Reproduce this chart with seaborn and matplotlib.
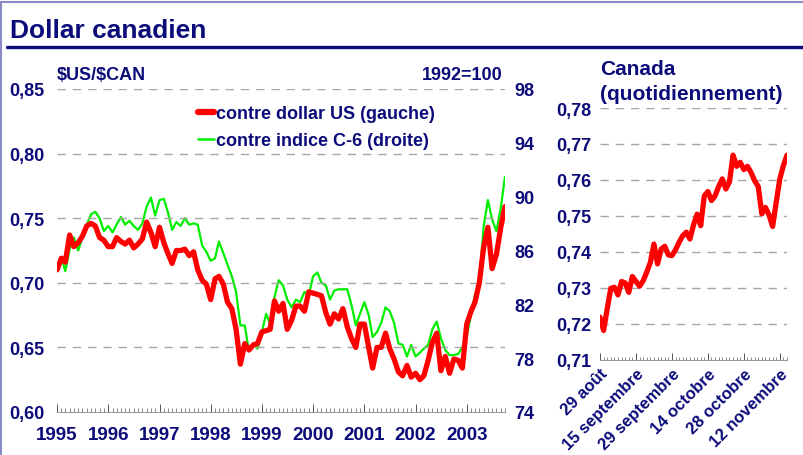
import numpy as np
import pandas as pd
import seaborn as sns
import matplotlib.pyplot as plt
from matplotlib.lines import Line2D
from matplotlib.ticker import FuncFormatter, MultipleLocator

# monthly, Jan 1995 .. Oct 2003
months = pd.date_range("1995-01-01", "2003-10-01", freq="MS")
usd = [
    0.710, 0.719, 0.716, 0.737, 0.728, 0.731, 0.736, 0.744, 0.746, 0.744, 0.735, 0.733,
    0.728, 0.728, 0.735, 0.732, 0.730, 0.733, 0.727, 0.730, 0.734, 0.747, 0.739, 0.728,
    0.743, 0.731, 0.723, 0.715, 0.725, 0.725, 0.726, 0.721, 0.724, 0.710, 0.702, 0.699,
    0.687, 0.703, 0.705, 0.699, 0.685, 0.680, 0.664, 0.637, 0.653, 0.648, 0.652, 0.653,
    0.662, 0.663, 0.664, 0.686, 0.678, 0.684, 0.664, 0.671, 0.682, 0.682, 0.678, 0.693,
    0.692, 0.691, 0.690, 0.677, 0.668, 0.676, 0.672, 0.680, 0.666, 0.657, 0.650, 0.668,
    0.668, 0.650, 0.634, 0.650, 0.650, 0.661, 0.649, 0.641, 0.631, 0.628, 0.636, 0.627,
    0.630, 0.625, 0.628, 0.640, 0.654, 0.661, 0.632, 0.643, 0.630, 0.641, 0.640, 0.634,
    0.668, 0.678, 0.685, 0.700, 0.727, 0.743, 0.711, 0.722, 0.743, 0.759,
]
# C-6 index read on the left scale, converted to 1992=100 below
c6_left = [
    0.713, 0.720, 0.709, 0.726, 0.735, 0.725, 0.735, 0.745, 0.753, 0.755, 0.750, 0.740,
    0.744, 0.739, 0.745, 0.751, 0.745, 0.748, 0.744, 0.741, 0.746, 0.759, 0.766, 0.752,
    0.764, 0.765, 0.755, 0.741, 0.747, 0.744, 0.750, 0.745, 0.746, 0.745, 0.729, 0.724,
    0.717, 0.719, 0.732, 0.723, 0.714, 0.705, 0.693, 0.667, 0.667, 0.647, 0.653, 0.649,
    0.662, 0.676, 0.668, 0.689, 0.702, 0.698, 0.687, 0.681, 0.687, 0.685, 0.693, 0.690,
    0.705, 0.708, 0.700, 0.698, 0.687, 0.694, 0.695, 0.695, 0.695, 0.683, 0.667, 0.676,
    0.685, 0.675, 0.658, 0.662, 0.669, 0.681, 0.678, 0.669, 0.653, 0.652, 0.643, 0.652,
    0.643, 0.646, 0.649, 0.652, 0.664, 0.670, 0.657, 0.648, 0.644, 0.644, 0.645, 0.650,
    0.658, 0.676, 0.691, 0.700, 0.743, 0.764, 0.749, 0.740, 0.758, 0.782,
]
c6 = [74 + (v - 0.60) * 96 for v in c6_left]

# daily (business days), 29 Aug .. mid-Nov 2003
daily = [
    0.7219, 0.7182, 0.7242, 0.7299, 0.7302, 0.7281, 0.7318, 0.7314, 0.7288, 0.7332,
    0.7318, 0.7305, 0.7320, 0.7344, 0.7371, 0.7422, 0.7367, 0.7408, 0.7416, 0.7392,
    0.7390, 0.7406, 0.7427, 0.7445, 0.7455, 0.7436, 0.7475, 0.7505, 0.7473, 0.7556,
    0.7568, 0.7543, 0.7556, 0.7582, 0.7603, 0.7575, 0.7595, 0.7669, 0.7638, 0.7649,
    0.7629, 0.7638, 0.7621, 0.7598, 0.7582, 0.7506, 0.7524, 0.7503, 0.7471, 0.7538,
    0.7603, 0.7640, 0.7669,
]
day_ticks = [0, 10, 20, 30, 40, 50]
day_labels = ["29 août", "15 septembre", "29 septembre", "14 octobre", "28 octobre", "12 novembre"]

NAVY = "#0b0b7a"
GRID = "#a6a6a6"

sns.set_style("white")
plt.rcParams["font.family"] = ["Liberation Sans", "DejaVu Sans"]
plt.rcParams["font.weight"] = "bold"

fig = plt.figure(figsize=(8.04, 4.56), dpi=100)
W, H = 804, 456

def box(x0, y0, x1, y1):
    return [x0 / W, 1 - y1 / H, (x1 - x0) / W, (y1 - y0) / H]

comma = FuncFormatter(lambda v, p: f"{v:.2f}".replace(".", ","))

# ---- left chart: monthly
ax = fig.add_axes(box(57, 90, 505, 413))
ax2 = ax.twinx()
df = pd.DataFrame({"date": months, "usd": usd, "c6": c6})
sns.lineplot(data=df, x="date", y="usd", ax=ax, color="#ff0000", lw=3.8, zorder=3)
sns.lineplot(data=df, x="date", y="c6", ax=ax2, color="#00ee00", lw=1.6)
ax.set_zorder(ax2.get_zorder() + 1)
ax.patch.set_visible(False)

ax.set_xlim(months[0], months[-1])
ax.set_ylim(0.60, 0.85)
ax2.set_ylim(74, 98)
ax.set_yticks([0.60, 0.65, 0.70, 0.75, 0.80, 0.85])
ax2.set_yticks(range(74, 99, 4))
ax.yaxis.set_major_formatter(comma)
for a in (ax, ax2):
    a.set_xlabel("")
    a.set_ylabel("")
    for s in a.spines.values():
        s.set_visible(False)
    a.tick_params(axis="y", length=0, labelsize=13, labelcolor=NAVY)
ax.tick_params(axis="y", pad=9)
ax2.tick_params(axis="y", pad=7)
for y in [0.65, 0.70, 0.75, 0.80, 0.85]:
    ax.axhline(y, color=GRID, lw=1, ls=(0, (6, 5)), zorder=1)

years = pd.date_range("1995-01-01", "2003-01-01", freq="YS")
ax.set_xticks(years)
ax.set_xticklabels([str(y.year) for y in years])
ax.set_xticks(pd.date_range("1995-01-01", "2003-10-01", freq="MS"), minor=True)
ax.spines["bottom"].set_visible(True)
ax.spines["bottom"].set_color("#888888")
ax.spines["bottom"].set_linewidth(0.6)
ax.tick_params(axis="x", which="both", bottom=True)
ax.tick_params(axis="x", which="major", direction="in", length=6, width=0.7,
               color="#555555", labelsize=13.5, labelcolor=NAVY, pad=10)
ax.tick_params(axis="x", which="minor", direction="in", length=3, width=0.6, color="#777777")
ax2.tick_params(axis="x", length=0, labelbottom=False)

ax.text(0.0, 1.02, r"\$US/\$CAN", transform=ax.transAxes, fontsize=13, color=NAVY,
        ha="left", va="bottom")
ax.text(0.995, 1.02, "1992=100", transform=ax.transAxes, fontsize=13, color=NAVY,
        ha="right", va="bottom")
handles = [Line2D([], [], color="#ff0000", lw=4.5), Line2D([], [], color="#00ee00", lw=1.8)]
ax.legend(handles, ["contre dollar US (gauche)", "contre indice C-6 (droite)"],
          loc="upper left", bbox_to_anchor=((191 - 57) / 448, 0.973), frameon=False,
          fontsize=13, labelcolor=NAVY, handlelength=0.9, handletextpad=0.1,
          labelspacing=0.55, borderaxespad=0)

# ---- right chart: daily
bx = fig.add_axes(box(600, 109, 787, 361))
days = np.arange(len(daily))
sns.lineplot(x=days, y=daily, ax=bx, color="#ff0000", lw=3.8, zorder=3)
bx.set_xlim(0, len(daily) - 1)
bx.set_ylim(0.71, 0.78)
bx.yaxis.set_major_locator(MultipleLocator(0.01))
bx.yaxis.set_major_formatter(comma)
for s in bx.spines.values():
    s.set_visible(False)
bx.spines["bottom"].set_visible(True)
bx.spines["bottom"].set_color("#888888")
bx.spines["bottom"].set_linewidth(0.6)
for y in np.arange(0.72, 0.785, 0.01):
    bx.axhline(y, color=GRID, lw=1, ls=(0, (6, 5)), zorder=1)
bx.tick_params(axis="y", length=0, labelsize=13, labelcolor=NAVY, pad=6)
bx.set_xticks(day_ticks)
bx.set_xticklabels(day_labels, rotation=45, ha="right", rotation_mode="anchor")
bx.set_xticks(days, minor=True)
bx.tick_params(axis="x", which="both", bottom=True)
bx.tick_params(axis="x", which="major", direction="in", length=5, width=0.7,
               color="#555555", labelsize=12, labelcolor=NAVY, pad=4)
bx.tick_params(axis="x", which="minor", direction="in", length=2.5, width=0.6, color="#777777")

fig.text(600 / W, 1 - 75 / H, "Canada", fontsize=15, color=NAVY, ha="left", va="baseline")
fig.text(600 / W, 1 - 100 / H, "(quotidiennement)", fontsize=15, color=NAVY,
         ha="left", va="baseline")

# ---- header and frame
fig.text(10 / W, 1 - 38 / H, "Dollar canadien", fontsize=19, color=NAVY,
         ha="left", va="baseline")
fig.add_artist(Line2D([7 / W, 1], [1 - 48 / H] * 2, color=NAVY, lw=2.4))
fig.add_artist(Line2D([1.5 / W, 1.5 / W], [0, 1 - 3 / H], color="#8a8ac8", lw=1.5))
fig.add_artist(Line2D([1.5 / W, 1], [1 - 3 / H] * 2, color="#8a8ac8", lw=1.5))

fig.savefig("out.png", dpi=100)
